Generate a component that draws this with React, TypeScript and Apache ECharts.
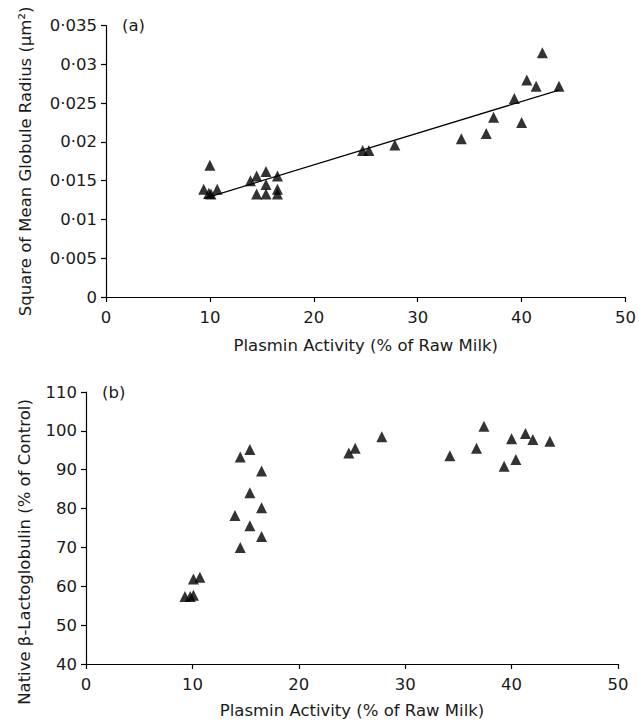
import React, { useEffect, useRef } from "react";
import * as echarts from "echarts";

// Panel (a): plasmin activity vs square of mean globule radius
const plasminA = [9.4, 9.9, 10.0, 10.1, 10.7, 13.9, 14.5, 14.5, 15.4, 15.4, 15.4, 16.5, 16.5, 16.5, 24.7, 25.3, 27.8, 34.2, 36.6, 37.3, 39.3, 40.0, 40.5, 41.4, 42.0, 43.6];
const radiusA = [0.0139, 0.0134, 0.0170, 0.0133, 0.0139, 0.0150, 0.0156, 0.0133, 0.0162, 0.0145, 0.0133, 0.0156, 0.0139, 0.0133, 0.0189, 0.0189, 0.0196, 0.0204, 0.0211, 0.0232, 0.0256, 0.0225, 0.0280, 0.0272, 0.0315, 0.0272];
// Linear trend line of panel (a)
const trendX = [9.4, 43.6];
const trendY = [0.0127, 0.0267];

// Panel (b): plasmin activity vs native beta-lactoglobulin
const plasminB = [9.3, 9.8, 10.1, 10.1, 10.7, 14.0, 14.5, 14.5, 15.4, 15.4, 15.4, 16.5, 16.5, 16.5, 24.7, 25.3, 27.8, 34.2, 36.7, 37.4, 39.3, 40.0, 40.4, 41.3, 42.0, 43.6];
const lactoB = [57.4, 57.4, 61.9, 57.7, 62.3, 78.2, 93.3, 70.0, 95.2, 84.1, 75.6, 89.7, 80.2, 72.8, 94.3, 95.5, 98.5, 93.6, 95.5, 101.2, 90.9, 98.0, 92.6, 99.3, 97.8, 97.3];

const xTitle = "Plasmin Activity (% of Raw Milk)";
const yTitleA = "Square of Mean Globule Radius (μm²)";
const yTitleB = "Native β-Lactoglobulin (% of Control)";

const FONT = "DejaVu Sans";
const FS = 16.5;
const INK = "#1a1a1a";

function axisCommon() {
  return {
    axisLine: { show: true, lineStyle: { color: "#000", width: 1.2 } },
    axisTick: { show: true, inside: false, length: 5, lineStyle: { color: "#000", width: 1.2 } },
    splitLine: { show: false },
    nameTextStyle: { fontFamily: FONT, fontSize: FS, color: INK },
  };
}

export default function App() {
  const ref = useRef<HTMLDivElement>(null);
  useEffect(() => {
    if (!ref.current) return;
    const chart = echarts.init(ref.current, null, { renderer: "svg" });
    const ptsA = plasminA.map((x, i) => [x, radiusA[i]]);
    const ptsB = plasminB.map((x, i) => [x, lactoB[i]]);
    const trend = trendX.map((x, i) => [x, trendY[i]]);
    const labelStyle = { fontFamily: FONT, fontSize: FS, color: INK };
    chart.setOption({
      animation: false,
      backgroundColor: "#fff",
      grid: [
        { left: 106, top: 25.7, width: 520, height: 271.3 },
        { left: 86, top: 392, width: 532, height: 272 },
      ],
      xAxis: [
        {
          ...axisCommon(),
          gridIndex: 0,
          type: "value",
          min: 0,
          max: 50,
          interval: 10,
          name: xTitle,
          nameLocation: "middle",
          nameGap: 40,
          axisLabel: { ...labelStyle, margin: 12 },
        },
        {
          ...axisCommon(),
          gridIndex: 1,
          type: "value",
          min: 0,
          max: 50,
          interval: 10,
          name: xTitle,
          nameLocation: "middle",
          nameGap: 38,
          axisLabel: { ...labelStyle, margin: 12 },
        },
      ],
      yAxis: [
        {
          ...axisCommon(),
          gridIndex: 0,
          type: "value",
          min: 0,
          max: 0.035,
          interval: 0.005,
          name: yTitleA,
          nameLocation: "middle",
          nameRotate: 90,
          nameGap: 72,
          axisLabel: {
            ...labelStyle,
            margin: 9,
            formatter: (v: number) => (v === 0 ? "0" : String(Number(v.toFixed(3))).replace(".", "·")),
          },
        },
        {
          ...axisCommon(),
          gridIndex: 1,
          type: "value",
          min: 40,
          max: 110,
          interval: 10,
          name: yTitleB,
          nameLocation: "middle",
          nameRotate: 90,
          nameGap: 53,
          nameTextStyle: { fontFamily: FONT, fontSize: FS, color: INK, padding: [0, 48, 0, 0] },
          axisLabel: { ...labelStyle, margin: 9 },
        },
      ],
      graphic: [
        { type: "text", left: 122, top: 17, style: { text: "(a)", font: `${FS}px "${FONT}"`, fill: INK } },
        { type: "text", left: 102, top: 384, style: { text: "(b)", font: `${FS}px "${FONT}"`, fill: INK } },
      ],
      series: [
        {
          type: "line",
          xAxisIndex: 0,
          yAxisIndex: 0,
          data: trend,
          showSymbol: false,
          symbol: "none",
          lineStyle: { color: "#000", width: 1.3 },
          z: 1,
        },
        {
          type: "scatter",
          xAxisIndex: 0,
          yAxisIndex: 0,
          data: ptsA,
          symbol: "triangle",
          symbolSize: [11, 11],
          itemStyle: { color: "#000" },
          z: 3,
        },
        {
          type: "scatter",
          xAxisIndex: 1,
          yAxisIndex: 1,
          data: ptsB,
          symbol: "triangle",
          symbolSize: [11, 11],
          itemStyle: { color: "#000" },
          z: 3,
        },
      ],
    });
    return () => chart.dispose();
  }, []);
  return (
    <div
      ref={ref}
      style={{ position: "absolute", left: 0, top: 0, width: 639, height: 721, background: "#fff" }}
    />
  );
}
